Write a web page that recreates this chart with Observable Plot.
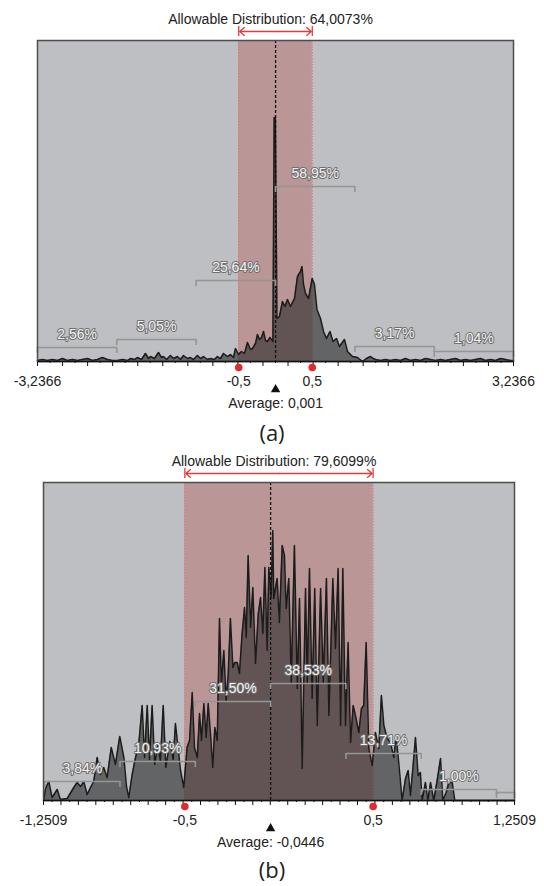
<!DOCTYPE html>
<html><head><meta charset="utf-8">
<script src="https://cdn.jsdelivr.net/npm/d3@7"></script>
<script src="https://cdn.jsdelivr.net/npm/@observablehq/plot@0.6"></script>
<style>
body{margin:0;background:#fff;width:544px;}
.cap{width:544px;text-align:center;font-family:'Open Sans','Liberation Sans',sans-serif;font-size:22px;color:#222;}
svg{display:block}
</style></head><body>
<div id="a"></div><div class="cap" style="height:32px;line-height:32px">(a)</div>
<div id="b"></div><div class="cap" style="height:34px;line-height:34px">(b)</div>
<script>
// ---------- Panel (a) ----------
const titleA = "Allowable Distribution: 64,0073%";
const rangeA = [-3.2366, 3.2366];
const allowA = [-0.5, 0.5];
const meanA = 0.001;
const meanLabelA = "Average: 0,001";
const tickValsA = [-3.2366, -0.5, 0.5, 3.2366];
const tickLabelsA = ["-3,2366", "-0,5", "0,5", "3,2366"];
const bracketEdgesA = [-3.2366, -2.1577, -1.0789, 0.001, 1.0799, 2.1588, 3.2366];
const bracketPctA = ["2,56%", "5,05%", "25,64%", "58,95%", "3,17%", "1,04%"];
const bracketLevelA = [14, 22, 81, 175, 15, 10];
const histA = [
 [-3.237,1],[-3.169,2],[-3.101,1],[-3.033,2],[-2.965,1],[-2.897,3],[-2.829,1],[-2.761,2],[-2.693,1],[-2.625,2],
 [-2.557,3],[-2.489,1],[-2.421,2],[-2.353,4],[-2.285,2],[-2.217,1],[-2.149,1],[-2.081,2],[-2.013,1],[-1.972,3],
 [-1.918,2],[-1.877,4],[-1.822,2],[-1.768,8],[-1.727,3],[-1.700,5],[-1.646,3],[-1.591,9],[-1.550,4],[-1.523,5],
 [-1.482,2],[-1.428,6],[-1.387,3],[-1.333,5],[-1.292,2],[-1.251,6],[-1.197,3],[-1.156,4],[-1.115,2],[-1.061,6],
 [-1.020,3],[-0.979,5],[-0.925,2],[-0.884,3],[-0.830,2],[-0.789,5],[-0.748,3],[-0.707,8],[-0.653,5],[-0.612,7],
 [-0.571,4],[-0.544,13],[-0.503,7],[-0.462,10],[-0.422,8],[-0.381,19],[-0.340,12],[-0.313,13],[-0.272,18],[-0.245,27],
 [-0.218,22],[-0.190,24],[-0.163,30],[-0.136,21],[-0.109,20],[-0.075,24],[-0.035,20],[-0.018,244],[-0.002,244],[0.020,43],
 [0.054,45],[0.095,60],[0.129,55],[0.163,62],[0.204,55],[0.258,63],[0.299,85],[0.340,90],[0.360,95],[0.381,77],
 [0.408,68],[0.449,63],[0.499,83],[0.530,77],[0.564,52],[0.612,43],[0.653,30],[0.694,23],[0.741,30],[0.782,20],
 [0.830,23],[0.870,15],[0.938,22],[0.979,10],[1.047,5],[1.115,4],[1.183,0],[1.237,3],[1.292,5],[1.333,3],
 [1.360,2],[1.428,1],[1.496,2],[1.564,1],[1.632,2],[1.700,1],[1.768,3],[1.836,1],[1.904,2],[1.972,1],
 [2.040,3],[2.108,2],[2.176,1],[2.244,2],[2.312,1],[2.380,2],[2.448,3],[2.516,1],[2.584,2],[2.652,1],
 [2.720,2],[2.788,3],[2.856,1],[2.924,2],[2.992,1],[3.060,3],[3.128,2],[3.196,1],[3.237,1]
];

// ---------- Panel (b) ----------
const titleB = "Allowable Distribution: 79,6099%";
const rangeB = [-1.2509, 1.2509];
const allowB = [-0.5, 0.5];
const meanB = -0.0446;
const meanLabelB = "Average: -0,0446";
const tickValsB = [-1.2509, -0.5, 0.5, 1.2509];
const tickLabelsB = ["-1,2509", "-0,5", "0,5", "1,2509"];
const bracketEdgesB = [-1.2446, -0.8446, -0.4446, -0.0446, 0.3554, 0.7554, 1.1554, 1.2509];
const bracketPctB = ["3,84%", "10,93%", "31,50%", "38,53%", "13,71%", "1,00%", ""];
const bracketLevelB = [19, 39, 99, 117, 47, 11, 8];
const histB = [
 [-1.250,0],[-1.240,12],[-1.223,19],[-1.205,3],[-1.178,11],[-1.161,1],[-1.125,2],[-1.090,13],[-1.072,18],[-1.054,14],
 [-1.037,19],[-1.019,6],[-1.001,13],[-0.984,19],[-0.966,43],[-0.948,26],[-0.931,33],[-0.913,23],[-0.891,53],[-0.869,36],
 [-0.846,64],[-0.824,43],[-0.810,14],[-0.798,3],[-0.780,26],[-0.762,43],[-0.745,56],[-0.727,95],[-0.714,43],[-0.700,95],
 [-0.688,41],[-0.674,95],[-0.660,36],[-0.644,56],[-0.630,39],[-0.615,95],[-0.601,33],[-0.580,59],[-0.562,41],[-0.550,77],
 [-0.523,30],[-0.506,13],[-0.488,53],[-0.475,60],[-0.461,108],[-0.449,53],[-0.434,43],[-0.422,87],[-0.412,60],[-0.399,97],
 [-0.387,63],[-0.376,97],[-0.364,67],[-0.352,33],[-0.341,73],[-0.328,60],[-0.316,182],[-0.306,117],[-0.293,150],[-0.281,100],
 [-0.270,125],[-0.258,182],[-0.245,133],[-0.235,138],[-0.222,138],[-0.210,127],[-0.196,167],[-0.183,193],[-0.174,163],[-0.164,245],
 [-0.151,173],[-0.139,213],[-0.125,137],[-0.110,187],[-0.098,203],[-0.086,167],[-0.075,233],[-0.063,150],[-0.054,233],[-0.042,203],
 [-0.033,270],[-0.028,202],[-0.010,222],[0.002,178],[0.017,255],[0.029,245],[0.038,192],[0.052,222],[0.065,118],[0.082,255],
 [0.097,112],[0.109,202],[0.123,32],[0.141,212],[0.150,118],[0.162,232],[0.176,102],[0.190,212],[0.203,75],[0.221,212],
 [0.235,118],[0.252,222],[0.265,85],[0.286,222],[0.300,152],[0.314,232],[0.327,75],[0.339,232],[0.353,75],[0.367,158],
 [0.380,58],[0.394,95],[0.406,85],[0.424,68],[0.438,92],[0.450,95],[0.463,158],[0.477,52],[0.495,35],[0.512,68],
 [0.530,52],[0.544,105],[0.557,75],[0.575,62],[0.592,58],[0.610,43],[0.622,65],[0.636,38],[0.654,0],[0.672,22],
 [0.686,30],[0.698,5],[0.711,32],[0.725,63],[0.739,25],[0.751,28],[0.760,0],[0.778,18],[0.791,0],[0.805,18],
 [0.822,0],[0.840,20],[0.858,42],[0.870,0],[0.888,8],[0.902,18],[0.920,18],[0.934,0],[1.000,0],[1.100,0],[1.2509,0]
];

const FONT = "'Liberation Sans', Arial, sans-serif";

function panel(c) {
  const data = c.hist.map(([x, y]) => ({x, y}));
  const brackets = c.pcts.map((p, i) => ({x1: c.edges[i], x2: c.edges[i + 1], y: c.levels[i], label: p}));
  const [lo, hi] = c.range;
  const step = (hi - lo) / c.nTicks;
  const major = d3.range(c.nTicks + 1).map(i => lo + i * step);
  const minor = d3.range(c.nTicks).map(i => lo + (i + 0.5) * step);
  const Y = c.yMax;
  const red = "#e23b3b";
  const mid = (c.allow[0] + c.allow[1]) / 2;
  const arrows = c.allow.map(a => ({x1: mid, x2: a}));
  return Plot.plot({
    width: 544, height: c.height,
    marginTop: c.mT, marginBottom: c.mB, marginLeft: c.mL, marginRight: c.mR,
    x: {domain: c.range, axis: null},
    y: {domain: [0, Y], axis: null},
    style: {fontFamily: FONT, fontSize: "14px", overflow: "visible", background: "transparent", color: "#222"},
    marks: [
      Plot.frame({fill: "#bebfc2", stroke: null}),
      Plot.rect([c.allow], {x1: d => d[0], x2: d => d[1], y1: 0, y2: Y, fill: "#bb9697"}),
      Plot.ruleX(c.allow, {stroke: "#e07070", strokeWidth: 1, strokeDasharray: "1.5,1.5"}),
      Plot.areaY(data, {x: "x", y: "y", fill: "#2b2b2b", fillOpacity: 0.62}),
      Plot.lineY(data, {x: "x", y: "y", stroke: "#1c1c1c", strokeWidth: 1.5}),
      Plot.ruleX([c.mean], {stroke: "#111", strokeWidth: 1.3, strokeDasharray: "3,2"}),
      Plot.link(brackets, {x1: "x1", x2: "x2", y1: "y", y2: "y", stroke: "#959595", strokeWidth: 1.6}),
      Plot.ruleX(brackets, {x: "x1", y1: "y", y2: d => d.y - 6, stroke: "#959595", strokeWidth: 1.6}),
      Plot.ruleX(brackets, {x: "x2", y1: "y", y2: d => d.y - 6, stroke: "#959595", strokeWidth: 1.6}),
      Plot.text(brackets, {x: d => (d.x1 + d.x2) / 2, y: "y", dy: -13, text: "label",
        fill: "#f3f3f3", stroke: "#707070", strokeWidth: 2, fontSize: 14}),
      Plot.frame({stroke: "#4d4d4d", strokeWidth: 1.5}),
      Plot.ruleY([0], {stroke: "#111", strokeWidth: 1.5}),
      Plot.ruleX(major, {y1: 0, y2: -5, stroke: "#111", strokeWidth: 1}),
      Plot.ruleX(minor, {y1: 0, y2: -2, stroke: "#111", strokeWidth: 1}),
      // allowable range arrow above the frame
      Plot.text([c.title], {frameAnchor: "top", dx: c.titleDx, dy: -21, lineAnchor: "middle", fontSize: 14, fill: "#222"}),
      Plot.arrow(arrows, {x1: "x1", x2: "x2", y1: Y + 9, y2: Y + 9, stroke: red, strokeWidth: 1.3,
        headLength: 7, headAngle: 80, insetEnd: 1}),
      Plot.ruleX(c.allow, {y1: Y + 4, y2: Y + 14, stroke: red, strokeWidth: 1.3}),
      // bottom annotations
      Plot.dot(c.allow, {x: d => d, y: 0, dy: 6, r: 3.8, fill: "#e32a2a", stroke: "none"}),
      Plot.text(c.tickVals, {x: d => d, y: 0, dy: 20, text: (d, i) => c.tickLabels[i], fontSize: 14, fill: "#222"}),
      Plot.dot([c.mean], {x: d => d, y: 0, dy: 28, symbol: "triangle", r: 3.5, fill: "#111", stroke: "none"}),
      Plot.text([c.mean], {x: d => d, y: 0, dy: 42, text: () => c.meanLabel, fontSize: 14, fill: "#222"})
    ]
  });
}

document.getElementById("a").append(panel({
  hist: histA, range: rangeA, allow: allowA, mean: meanA, meanLabel: meanLabelA, title: titleA,
  edges: bracketEdgesA, pcts: bracketPctA, levels: bracketLevelA,
  tickVals: tickValsA, tickLabels: tickLabelsA, nTicks: 19,
  yMax: 321, height: 416, mT: 40, mB: 55, mL: 37, mR: 31, titleDx: -5
}));
document.getElementById("b").append(panel({
  hist: histB, range: rangeB, allow: allowB, mean: meanB, meanLabel: meanLabelB, title: titleB,
  edges: bracketEdgesB, pcts: bracketPctB, levels: bracketLevelB,
  tickVals: tickValsB, tickLabels: tickLabelsB, nTicks: 27,
  yMax: 318, height: 404, mT: 34, mB: 52, mL: 43, mR: 30, titleDx: -5
}));
</script></body></html>
